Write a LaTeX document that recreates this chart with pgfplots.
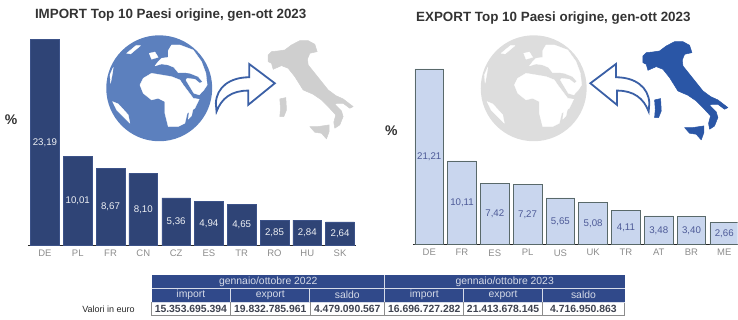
\documentclass[border=0pt]{standalone}
\usepackage{fontspec}
\setmainfont{Liberation Sans}
\usepackage{pgfplots}
\usepackage{pgfplotstable}
\pgfplotsset{compat=1.18}

\definecolor{navy}{HTML}{2F4476}
\definecolor{navyedge}{HTML}{3C5288}
\definecolor{pale}{HTML}{C9D6EE}
\definecolor{paleedge}{HTML}{59696A}
\definecolor{paletext}{HTML}{4D5A97}
\definecolor{globeblue}{HTML}{5C80BE}
\definecolor{mute}{HTML}{DDDDDD}
\definecolor{italygray}{HTML}{CFCFCF}
\definecolor{italyblue}{HTML}{2A56A6}
\definecolor{arrowblue}{HTML}{3B60A6}
\definecolor{tablehead}{HTML}{30498A}
\definecolor{ticklab}{HTML}{8C8C8C}
\definecolor{titletext}{HTML}{333333}
\definecolor{tabletext}{HTML}{3F4350}

\pgfplotstableread{
c v
DE 23.19
PL 10.01
FR 8.67
CN 8.10
CZ 5.36
ES 4.94
TR 4.65
RO 2.85
HU 2.84
SK 2.64
}\importdata

\pgfplotstableread{
c v
DE 21.21
FR 10.11
ES 7.42
PL 7.27
US 5.65
UK 5.08
TR 4.11
AT 3.48
BR 3.40
ME 2.66
}\exportdata

% Shared look of the two country bar panels
\pgfplotsset{
  panel/.style={
    scale only axis, anchor=south west,
    ymin=0, ymax=24,
    hide y axis,
    axis x line=bottom,
    axis line style={-, color=black!85, line width=0.9pt},
    xtick={0,...,9},
    major tick length=0pt,
    xticklabel style={font=\fontsize{9.5}{11}\selectfont, text=ticklab, yshift=-1pt},
    point meta=y,
    nodes near coords,
    /pgf/number format/.cd, use comma, fixed, fixed zerofill, precision=2, assume math mode=true,
    /pgfplots/.cd,
  },
}

% Italy with its two islands, in units of a third of a point
\newcommand{\italyshape}[1]{%
  \begin{scope}[x=0.3333pt, y=-0.3333pt]
  \filldraw[#1, line width=0.5pt, line join=round]
    (25,60)--(35,50)--(55,48)--(75,45)--(95,30)--(120,17)--(145,17)--(165,28)--(172,50)
    --(150,55)--(143,72)--(145,90)--(165,115)--(185,140)--(205,165)--(228,182)--(250,192)
    --(280,215)--(270,220)--(250,205)--(232,205)--(225,208)--(245,228)--(250,245)--(240,270)
    --(225,280)--(222,262)--(228,240)--(205,215)--(185,195)--(160,178)--(130,165)--(105,125)
    --(85,100)--(65,92)--(40,103)--(35,85)--(25,80)--cycle;
  \filldraw[#1, line width=0.5pt, line join=round]
    (60,192)--(78,188)--(80,225)--(72,245)--(60,245)--(62,220)--cycle;
  \filldraw[#1, line width=0.5pt, line join=round]
    (150,275)--(175,275)--(208,270)--(208,290)--(200,312)--(185,295)--(165,292)--cycle;
  \end{scope}
}

% Globe with its land masses; the disc sits at (178,175) in local units
\newcommand{\globeshape}[2]{%
  \begin{scope}[x=0.3333pt, y=-0.3333pt]
    \fill[#1] (178,175) circle (53pt);
    % Africa
    \filldraw[#2, line width=0.3pt, line join=round]
      (120,165)--(130,145)--(155,130)--(185,135)--(215,140)--(240,150)--(250,165)--(280,205)
      --(298,208)--(285,235)--(262,250)--(255,280)--(235,290)--(205,290)--(195,250)--(195,215)
      --(175,205)--(155,210)--(130,190)--cycle;
    % Europe, Asia and Arabia
    \filldraw[#2, line width=0.3pt, line join=round]
      (205,62)--(215,45)--(240,45)--(280,60)--(305,95)--(318,130)--(322,165)--(312,180)
      --(298,195)--(282,190)--(270,170)--(258,150)--(262,145)--(285,148)--(300,160)--(308,155)
      --(295,140)--(270,130)--(255,128)--(235,128)--(222,112)--(205,105)--(185,102)--(165,108)
      --(175,95)--(185,85)--(205,82)--cycle;
    % Britain
    \filldraw[#2, line width=0.3pt, line join=round]
      (148,70)--(165,66)--(175,82)--(155,88)--cycle;
    % Madagascar
    \filldraw[#2, line width=0.3pt, line join=round]
      (280,235)--(275,258)--(265,268)--(268,245)--cycle;
    % South America
    \filldraw[#2, line width=0.3pt, line join=round]
      (38,215)--(55,222)--(85,255)--(90,280)--(72,262)--(50,240)--cycle;
    % Greenland and northern rim
    \filldraw[#2, line width=0.3pt, line join=round]
      (80,70)--(108,47)--(122,47)--(92,72)--cycle;
    \filldraw[#2, line width=0.3pt, line join=round]
      (30,135)--(40,112)--(38,128)--(32,160)--cycle;
  \end{scope}
}

% Curved arrow, pointing right
\newcommand{\arrowshape}{%
  \draw[arrowblue, fill=white, line width=1.8pt, line join=miter, x=0.3333pt, y=-0.3333pt]
    (650,335) .. controls (665,295) and (695,272) .. (745,272)
    -- (745,315) -- (825,250) -- (748,192) -- (748,232)
    .. controls (690,232) and (650,262) .. (648,310) -- cycle;
}

\begin{document}
\begin{tikzpicture}[x=1pt, y=1pt]
  \path (0,0) rectangle (738,320);

  % Import panel
  \begin{axis}[panel, at={(28pt,74.5pt)}, width=328pt, height=213.12pt,
      xmin=-0.518, xmax=9.48,
      xticklabels from table={\importdata}{c},
      visualization depends on={\thisrow{v}*8.88/2 \as \halfh},
      every node near coord/.append style={anchor=center, yshift=-\halfh pt,
        font=\fontsize{9.7}{11}\selectfont, text=white!92!navy},
    ]
    \addplot[ybar, bar shift=0pt, bar width=28.7pt, fill=navy, draw=navyedge, line width=0.5pt]
      table[x expr=\coordindex, y=v] {\importdata};
  \end{axis}

  % Export panel
  \begin{axis}[panel, at={(413pt,75pt)}, width=325pt, height=199.2pt,
      xmin=-0.503, xmax=9.405,
      xticklabels from table={\exportdata}{c},
      visualization depends on={\thisrow{v}*8.3/2 \as \halfh},
      every node near coord/.append style={anchor=center, yshift=-\halfh pt,
        font=\fontsize{9.7}{11}\selectfont, text=paletext},
    ]
    \addplot[ybar, bar shift=0pt, bar width=28.7pt, fill=pale, draw=paleedge, line width=0.8pt]
      table[x expr=\coordindex, y=v] {\exportdata};
  \end{axis}

  % Panel titles and unit marks
  \node[anchor=center, text=titletext, font=\fontsize{13.4}{15}\selectfont\bfseries] at (170.8,305.3) {IMPORT Top 10 Paesi origine, gen-ott 2023};
  \node[anchor=center, text=titletext, font=\fontsize{13.4}{15}\selectfont\bfseries] at (553.7,302.3) {EXPORT Top 10 Paesi origine, gen-ott 2023};
  \node[text=titletext, font=\fontsize{14}{16}\selectfont\bfseries] at (11,200) {\%};
  \node[text=titletext, font=\fontsize{14}{16}\selectfont\bfseries] at (391.7,189.3) {\%};

  % Import illustration
  \begin{scope}[shift={(100,290)}] \globeshape{globeblue}{white} \end{scope}
  \begin{scope}[shift={(260,285)}] \italyshape{italygray} \end{scope}
  \begin{scope}[shift={(0,320)}] \arrowshape \end{scope}

  % Export illustration
  \begin{scope}[shift={(474.7,290)}] \globeshape{mute}{white} \end{scope}
  \begin{scope}[shift={(635,284)}] \italyshape{italyblue} \end{scope}
  \begin{scope}[shift={(865.7,320)}, xscale=-1] \arrowshape \end{scope}

  % Summary table
  \begin{scope}[shift={(0,320)}, y=-1pt]
    \fill[tablehead] (151.7,275) rectangle (625,302.3);
    \fill[white] (151.7,302.3) rectangle (625,315.7);
    \draw[black!45, line width=0.6pt] (151.7,302.3) rectangle (625,315.7);
    \draw[white!80!tablehead, line width=0.8pt] (151.7,288.5) -- (625,288.5);
    \draw[white!80!tablehead, line width=0.8pt] (151.7,302.3) -- (625,302.3);
    \draw[white!80!tablehead, line width=0.8pt] (385,275) -- (385,302.3);
    \foreach \dx in {230.7,310,464,542.7} {
      \draw[white!80!tablehead, line width=0.8pt] (\dx,288.5) -- (\dx,302.3);
      \draw[black!45, line width=0.6pt] (\dx,302.3) -- (\dx,315.7);
    }
    \draw[black!45, line width=0.6pt] (385,302.3) -- (385,315.7);
    \tikzset{hd/.style={text=white!80!tablehead, font=\fontsize{10.4}{12}\selectfont},
             val/.style={text=tabletext, font=\fontsize{10.4}{12}\selectfont\bfseries}}
    \node[hd] at (268.4,282) {gennaio/ottobre 2022};
    \node[hd] at (505,282) {gennaio/ottobre 2023};
    \node[hd] at (191,295.4) {import};
    \node[hd] at (270.4,295.4) {export};
    \node[hd] at (347.5,295.4) {saldo};
    \node[hd] at (424.5,295.4) {import};
    \node[hd] at (503.4,295.4) {export};
    \node[hd] at (583.8,295.4) {saldo};
    \node[val] at (191,309.2) {15.353.695.394};
    \node[val] at (270.4,309.2) {19.832.785.961};
    \node[val] at (347.5,309.2) {4.479.090.567};
    \node[val] at (424.5,309.2) {16.696.727.282};
    \node[val] at (503.4,309.2) {21.413.678.145};
    \node[val] at (583.8,309.2) {4.716.950.863};
    \node[text=black!85, font=\fontsize{9}{10}\selectfont] at (108.5,309.7) {Valori in euro};
  \end{scope}
\end{tikzpicture}
\end{document}
